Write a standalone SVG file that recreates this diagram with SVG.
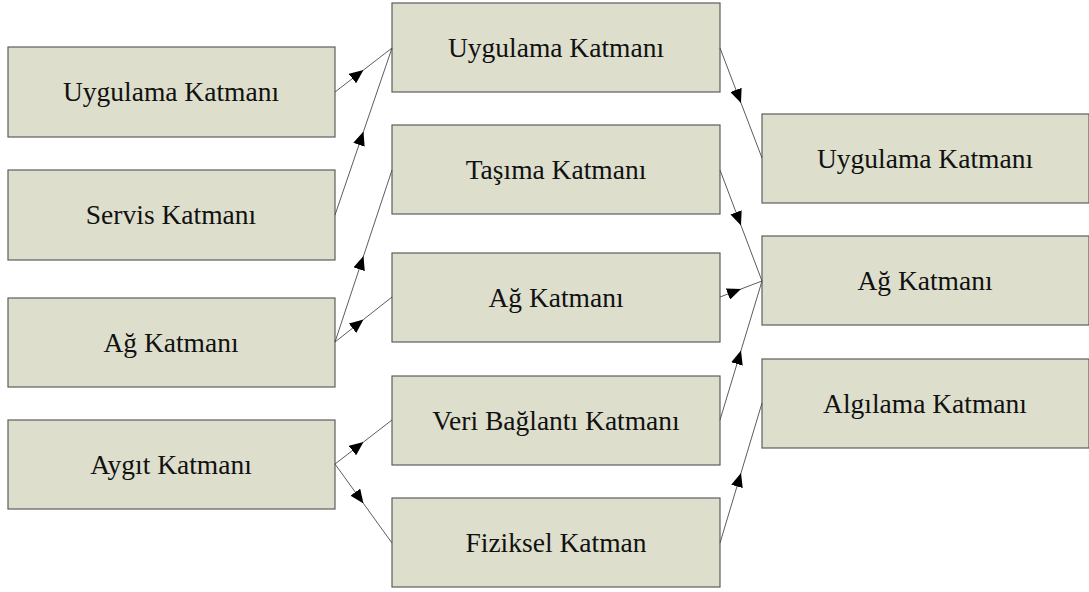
<svg xmlns="http://www.w3.org/2000/svg" width="1089" height="592" viewBox="0 0 1089 592">
  <style>
    .box { fill: #dddfcc; stroke: #5e5e5e; stroke-width: 1.2; }
    .lbl { font-family: "Liberation Serif", "Times New Roman", serif; font-size: 27.5px; fill: #111; text-anchor: middle; }
    .link { fill: none; stroke: #4a4a4a; stroke-width: 0.9; marker-mid: url(#arrow); }
  </style>
  <defs>
    <!-- solid arrowhead placed at the midpoint of each connector -->
    <marker id="arrow" markerUnits="userSpaceOnUse" markerWidth="15" markerHeight="12" refX="14" refY="6" orient="auto" viewBox="0 0 15 12">
      <path d="M0,0 L14,6 L0,12 Z" fill="#000"/>
    </marker>
  </defs>
  <rect width="1089" height="592" fill="#fff"/>

  <!-- left column -->
  <g id="left-uygulama"><rect class="box" x="8" y="47" width="327" height="90"/><text class="lbl" x="171" y="101">Uygulama Katmanı</text></g>
  <g id="left-servis"><rect class="box" x="8" y="170" width="327" height="90"/><text class="lbl" x="171" y="224">Servis Katmanı</text></g>
  <g id="left-ag"><rect class="box" x="8" y="298" width="327" height="89"/><text class="lbl" x="171" y="352">Ağ Katmanı</text></g>
  <g id="left-aygit"><rect class="box" x="8" y="420" width="327" height="89"/><text class="lbl" x="171" y="474">Aygıt Katmanı</text></g>

  <!-- middle column -->
  <g id="mid-uygulama"><rect class="box" x="392" y="3" width="328" height="89"/><text class="lbl" x="556" y="57">Uygulama Katmanı</text></g>
  <g id="mid-tasima"><rect class="box" x="392" y="125" width="328" height="89"/><text class="lbl" x="556" y="179">Taşıma Katmanı</text></g>
  <g id="mid-ag"><rect class="box" x="392" y="253" width="328" height="89"/><text class="lbl" x="556" y="307">Ağ Katmanı</text></g>
  <g id="mid-veri"><rect class="box" x="392" y="376" width="328" height="89"/><text class="lbl" x="556" y="430">Veri Bağlantı Katmanı</text></g>
  <g id="mid-fiziksel"><rect class="box" x="392" y="498" width="328" height="89"/><text class="lbl" x="556" y="552">Fiziksel Katman</text></g>

  <!-- right column -->
  <g id="right-uygulama"><rect class="box" x="762" y="114" width="327" height="89"/><text class="lbl" x="925" y="168">Uygulama Katmanı</text></g>
  <g id="right-ag"><rect class="box" x="762" y="236" width="327" height="89"/><text class="lbl" x="925" y="290">Ağ Katmanı</text></g>
  <g id="right-algilama"><rect class="box" x="762" y="359" width="327" height="89"/><text class="lbl" x="925" y="413">Algılama Katmanı</text></g>

  <!-- connectors: start, midpoint (arrowhead), end -->
  <g id="connectors">
    <path class="link" d="M335,92 L363.5,70 L392,48"/>
    <path class="link" d="M335,215 L363.5,131.5 L392,48"/>
    <path class="link" d="M335,342 L363.5,256 L392,170"/>
    <path class="link" d="M335,342 L363.5,319.5 L392,297"/>
    <path class="link" d="M335,464 L363.5,442 L392,420"/>
    <path class="link" d="M335,464 L363.5,503.5 L392,543"/>
    <path class="link" d="M720,48 L741,103 L762,158"/>
    <path class="link" d="M720,170 L741,225.5 L762,281"/>
    <path class="link" d="M720,297 L741,289 L762,281"/>
    <path class="link" d="M720,420 L741,350.5 L762,281"/>
    <path class="link" d="M720,543 L741,473 L762,403"/>
  </g>
</svg>
